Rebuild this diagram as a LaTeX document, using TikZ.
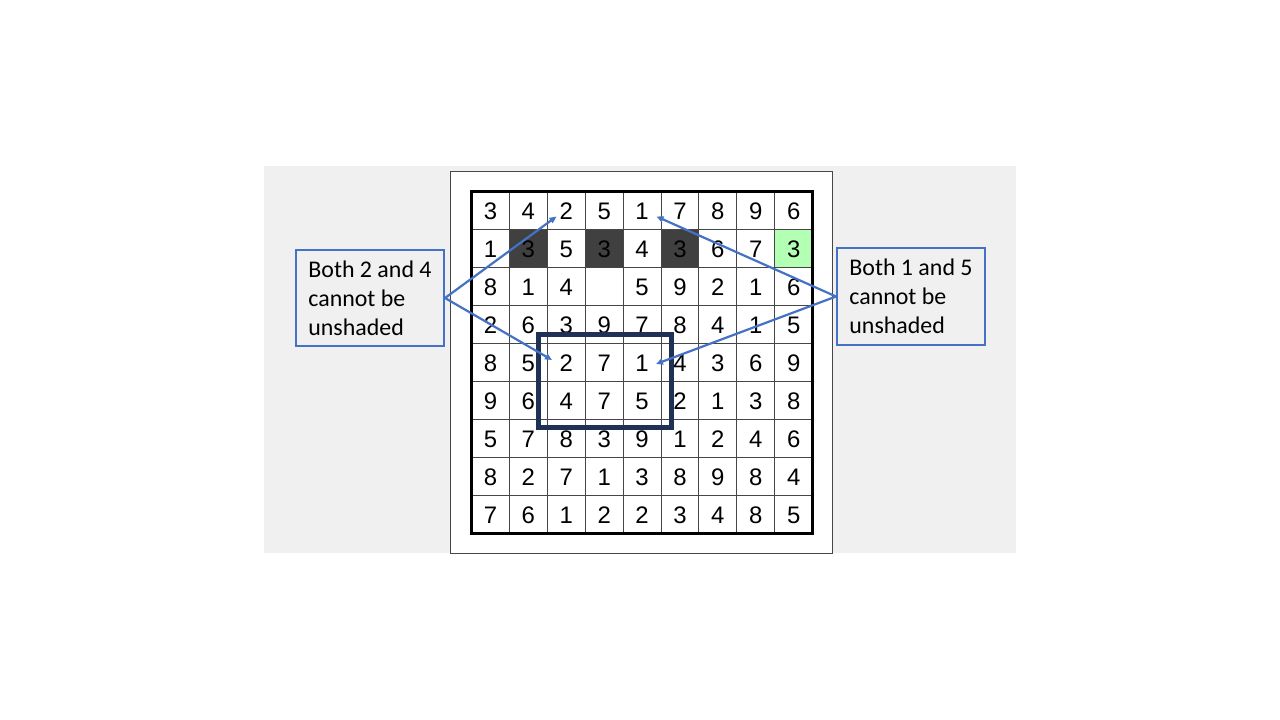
\documentclass[tikz,border=0pt]{standalone}
\usepackage{fontspec}
\setmainfont{Liberation Sans}
\newfontfamily\calfont{Carlito}
\newfontfamily\arifont{Liberation Sans}
\usetikzlibrary{arrows.meta}
\definecolor{bgpanel}{RGB}{240,240,240}
\definecolor{boxblue}{RGB}{68,114,196}
\definecolor{navy}{RGB}{31,50,85}
\definecolor{darkcell}{RGB}{64,64,64}
\definecolor{lgreen}{RGB}{179,255,179}
\definecolor{gridc}{RGB}{70,70,70}
\tikzset{
  digit/.style={inner sep=0pt, font=\arifont\fontsize{24}{24}\selectfont},
  callout/.style={draw=boxblue, line width=2bp, fill=bgpanel, align=left,
    inner xsep=8bp, minimum width=148bp, minimum height=96bp,
    font=\calfont\fontsize{24}{29}\selectfont},
  pointer/.style={draw=boxblue, line width=2.2bp, -{Triangle[length=7bp,width=6bp]}},
  gridline/.style={draw=gridc, line width=1bp},
}
\begin{document}
\begin{tikzpicture}[x=1bp,y=-1bp]
\useasboundingbox (0,0) rectangle (1280,720);
\fill[white] (0,0) rectangle (1280,720);
% panels
\fill[bgpanel] (264,166) rectangle (1016,553);
\draw[fill=white, draw=gridc, line width=1bp] (450.5,171.5) rectangle (832,553);
% shaded cells
\def\cw{37.9}\def\ch{38}
\foreach \c/\col in {2/darkcell,4/darkcell,6/darkcell,9/lgreen}{
  \fill[fill=\col] ({471.5+(\c-1)*\cw},{191.5+\ch}) rectangle ({471.5+\c*\cw},{191.5+2*\ch});
}
% grid lines
\foreach \i in {1,...,8}{
  \draw[gridline] ({471.5+\i*\cw},191.5) -- ({471.5+\i*\cw},533.5);
  \draw[gridline] (471.5,{191.5+\i*\ch}) -- (812.6,{191.5+\i*\ch});
}
\draw[black, line width=3bp] (471.5,191.5) rectangle (812.6,533.5);
% digits
\foreach \row [count=\r] in {
  {3,4,2,5,1,7,8,9,6},
  {1,3,5,3,4,3,6,7,3},
  {8,1,4,{},5,9,2,1,6},
  {2,6,3,9,7,8,4,1,5},
  {8,5,2,7,1,4,3,6,9},
  {9,6,4,7,5,2,1,3,8},
  {5,7,8,3,9,1,2,4,6},
  {8,2,7,1,3,8,9,8,4},
  {7,6,1,2,2,3,4,8,5}}{
  \foreach \v [count=\c] in \row {
    \node[digit] (c-\r-\c) at ({471.5+(\c-0.5)*\cw},{191.5+(\r-0.5)*\ch+1}) {\v};
  }
}
% highlight rectangle
\draw[navy, line width=5bp] (538,334.5) rectangle (671,427);
% callouts
\node[callout] (lbox) at (370,298) {Both 2 and 4\\cannot be\\unshaded};
\node[callout] (rbox) at (911,296.5) {Both 1 and 5\\cannot be\\unshaded};
% arrow tips
\coordinate (lt1) at (556.5,216.5);
\coordinate (lt2) at (552,360);
\coordinate (rt1) at (656.5,216.5);
\coordinate (rt2) at (656,364);
\draw[pointer] (lbox.east) -- (lt1);
\draw[pointer] (lbox.east) -- (lt2);
\draw[pointer] (rbox.west) -- (rt1);
\draw[pointer] (rbox.west) -- (rt2);
\end{tikzpicture}
\end{document}
